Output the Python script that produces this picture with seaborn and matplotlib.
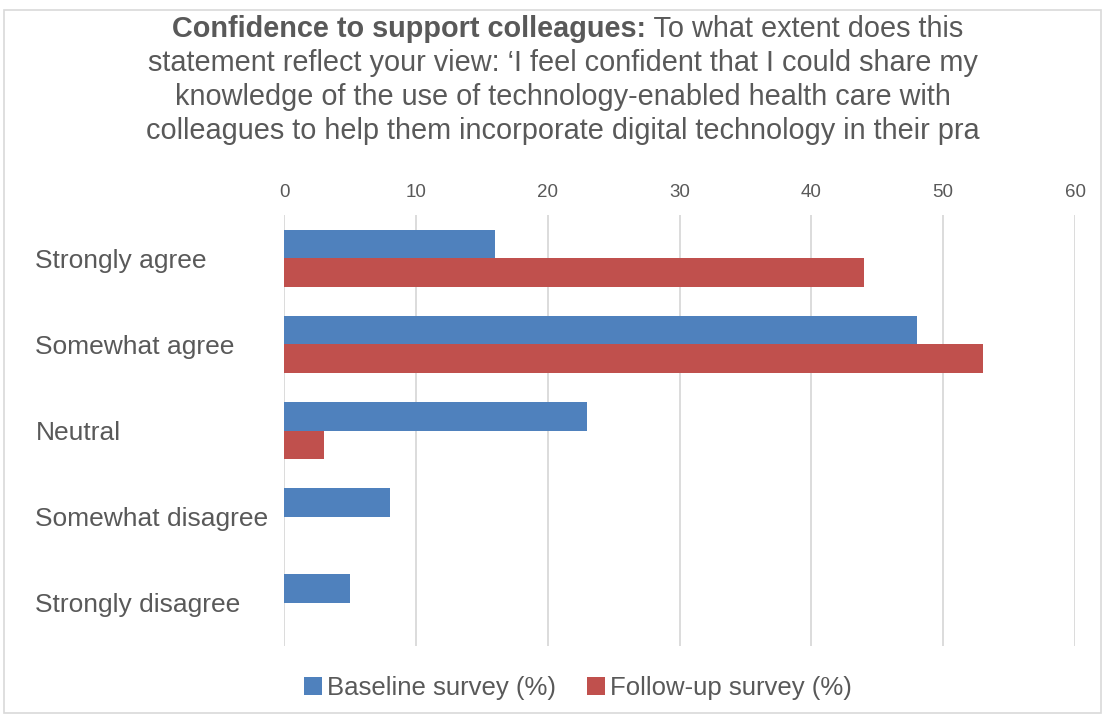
"""Confidence to support colleagues: baseline vs follow-up survey."""

import matplotlib.pyplot as plt
import pandas as pd
import seaborn as sns
from matplotlib.patches import Rectangle


CATEGORIES = [
    "Strongly agree",
    "Somewhat agree",
    "Neutral",
    "Somewhat disagree",
    "Strongly disagree",
]
BASELINE = [16, 48, 23, 8, 5]
FOLLOW_UP = [44, 53, 3, 0, 0]
SERIES = ["Baseline survey (%)", "Follow-up survey (%)"]
COLORS = ["#4F81BD", "#C0504D"]
X_TICKS = [0, 10, 20, 30, 40, 50, 60]

TITLE_BOLD = "Confidence to support colleagues:"
TITLE_LINES = [
    " To what extent does this",
    "statement reflect your view: \u2018I feel confident that I could share my",
    "knowledge of the use of technology-enabled health care with",
    "colleagues to help them incorporate digital technology in their pra",
]

TEXT_COLOR = "#595959"
GRID_COLOR = "#D9D9D9"


def build_frame() -> pd.DataFrame:
    rows = []
    for name, values in zip(SERIES, [BASELINE, FOLLOW_UP]):
        for cat, val in zip(CATEGORIES, values):
            rows.append({"category": cat, "series": name, "value": val})
    return pd.DataFrame(rows)


def main() -> None:
    sns.set_theme(style="white")
    plt.rcParams["font.family"] = ["Liberation Sans", "DejaVu Sans"]

    data = build_frame()
    fig = plt.figure(figsize=(11.07, 7.17), dpi=100)
    ax = fig.add_axes([0.2566, 0.099, 0.7145, 0.601])

    sns.barplot(
        data=data, x="value", y="category", hue="series", order=CATEGORIES,
        hue_order=SERIES, palette=COLORS, orient="h", width=0.66,
        saturation=1, linewidth=0, ax=ax,
    )

    ax.set_xlim(0, 60)
    ax.set_xticks(X_TICKS)
    ax.xaxis.tick_top()
    ax.tick_params(axis="x", length=0, pad=10, labelsize=13.5, labelcolor=TEXT_COLOR)
    ax.tick_params(axis="y", length=0, pad=179, labelsize=19, labelcolor=TEXT_COLOR)
    for lbl in ax.get_yticklabels():
        lbl.set_horizontalalignment("left")
    ax.set_xlabel("")
    ax.set_ylabel("")
    ax.grid(axis="x", color=GRID_COLOR, linewidth=1.3)
    ax.set_axisbelow(True)
    for spine in ax.spines.values():
        spine.set_visible(False)

    ax.legend(
        loc="center", bbox_to_anchor=(578 / 1107, 1 - 688 / 717),
        bbox_transform=fig.transFigure, ncol=2, frameon=False,
        fontsize=18.5, labelcolor=TEXT_COLOR, handlelength=0.7,
        handleheight=0.7, handletextpad=0.2, columnspacing=1.2,
    )

    # title: first line mixes bold and regular text
    fig.canvas.draw()
    renderer = fig.canvas.get_renderer()
    size = 20.8
    y0 = 1 - 29 / 717
    bold = fig.text(0, y0, TITLE_BOLD, fontsize=size, fontweight="bold",
                    color=TEXT_COLOR, va="center", ha="left")
    rest = fig.text(0, y0, TITLE_LINES[0], fontsize=size,
                    color=TEXT_COLOR, va="center", ha="left")
    wb = bold.get_window_extent(renderer).width
    wr = rest.get_window_extent(renderer).width
    left = 568 - (wb + wr) / 2
    bold.set_x(left / 1107)
    rest.set_x((left + wb) / 1107)
    for i, line in enumerate(TITLE_LINES[1:], start=1):
        fig.text(563 / 1107, 1 - (29 + 34 * i) / 717, line, fontsize=size,
                 color=TEXT_COLOR, va="center", ha="center")

    fig.patches.append(Rectangle(
        (4 / 1107, 4 / 717), 1097 / 1107, 703 / 717, transform=fig.transFigure,
        fill=False, edgecolor=GRID_COLOR, linewidth=1.2,
    ))

    fig.savefig("out.png", dpi=100)
    plt.close(fig)


if __name__ == "__main__":
    main()
